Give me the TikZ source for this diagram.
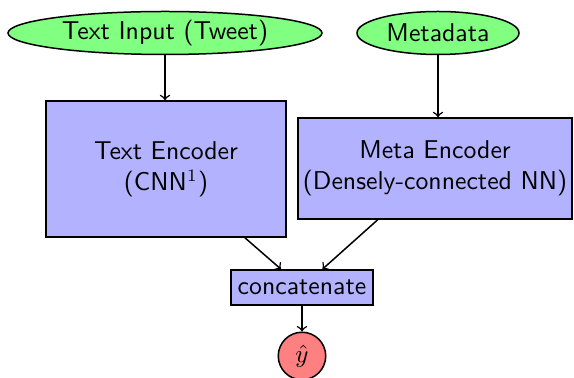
\documentclass[tikz,border=0pt]{standalone}
\usetikzlibrary{shapes.geometric}
\begin{document}
\begin{tikzpicture}[x=0.4pt,y=-0.4pt, line width=0.6pt,
  every node/.style={font=\sffamily\fontsize{10.3}{12.5}\selectfont, draw=black, inner sep=0pt, align=center},
  inputnode/.style={ellipse, fill=green!50, minimum height=17.2pt},
  boxnode/.style={rectangle, fill=blue!30},
  outnode/.style={circle, fill=red!50, minimum size=19pt},
  arr/.style={->}]
\useasboundingbox (0,0) rectangle (574,378);
\node[inputnode, minimum width=125.6pt] (tin) at (165,33) {Text Input (Tweet)};
\node[inputnode, minimum width=64.8pt] (meta) at (438,33) {Metadata};
\node[boxnode, minimum width=96pt, minimum height=54.4pt] (tenc) at (166,169) {Text Encoder\\(CNN$^1$)};
\node[boxnode, minimum width=109.6pt, minimum height=40.4pt] (menc) at (435,168.5) {Meta Encoder\\(Densely-connected NN)};
\node[boxnode, minimum width=56.8pt, minimum height=14pt] (cat) at (302,287.5) {concatenate};
\node[outnode] (y) at (302,356) {$\hat{y}$};
\draw[arr] (tin) -- (tenc.north -| tin);
\draw[arr] (meta) -- (menc.north -| meta);
\draw[arr] (tenc) -- (cat);
\draw[arr] (menc) -- (cat);
\draw[arr] (cat) -- (y);
\end{tikzpicture}
\end{document}
